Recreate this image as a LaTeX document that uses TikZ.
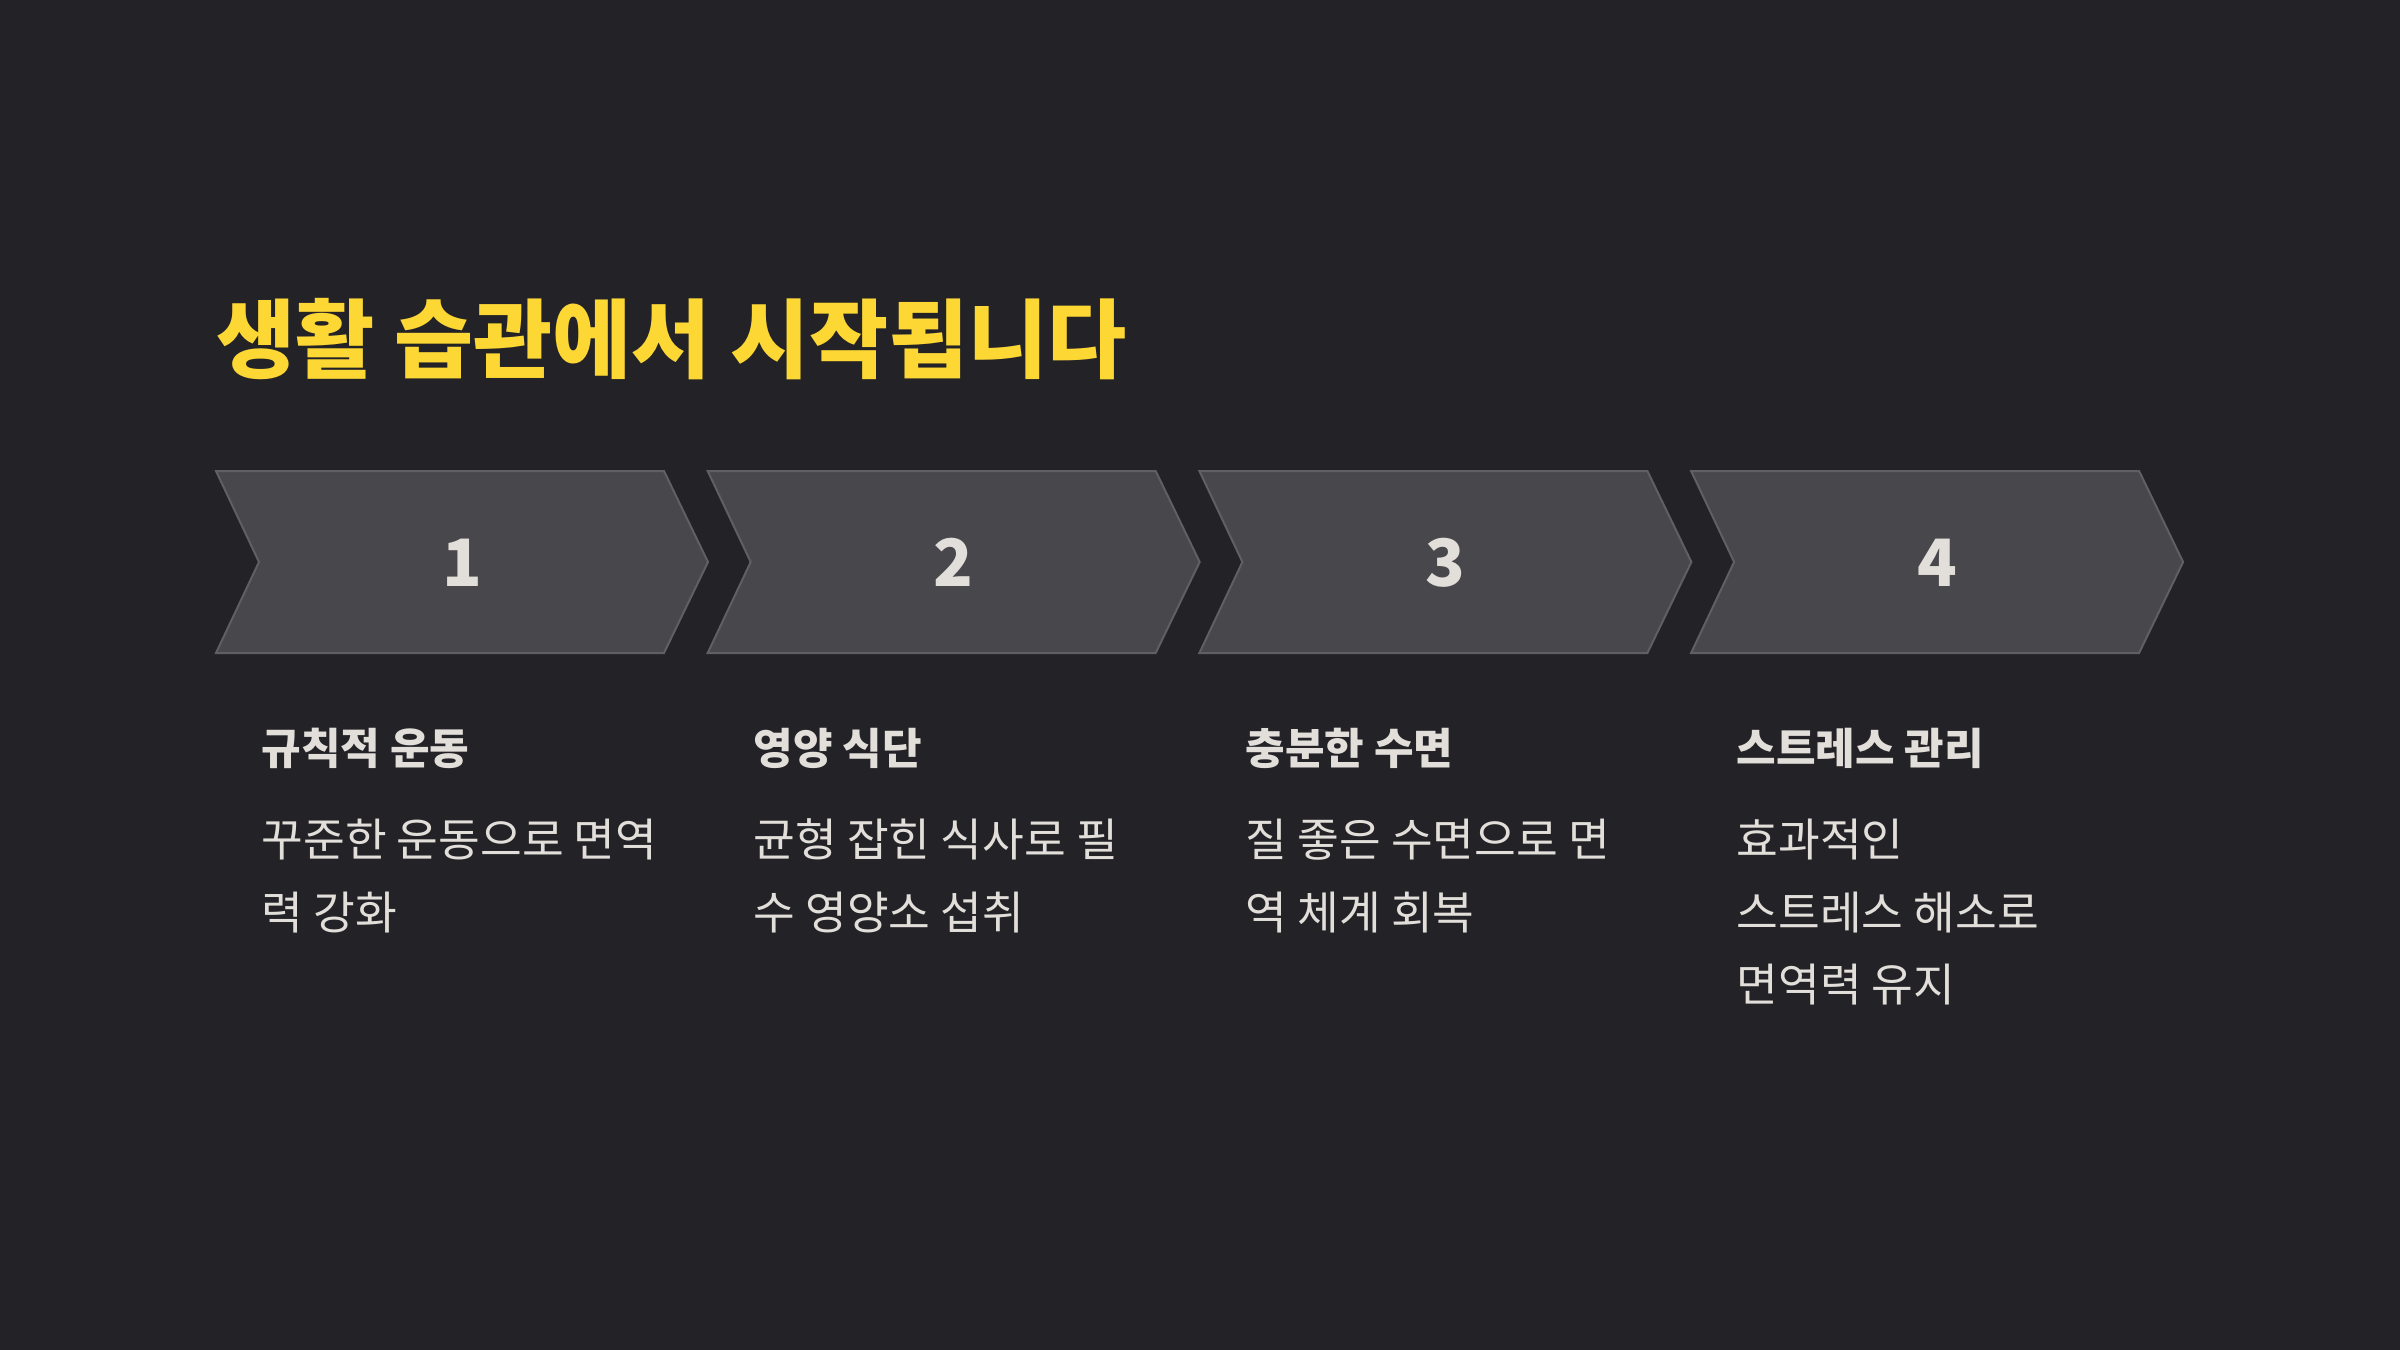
\documentclass[tikz,border=0pt]{standalone}
\usepackage{fontspec}
\newfontfamily\kr{Noto Sans CJK KR}
\definecolor{bg}{HTML}{232227}
\definecolor{chevfill}{HTML}{48474C}
\definecolor{chevline}{HTML}{605F64}
\definecolor{ttl}{HTML}{FDD835}
\definecolor{txt}{HTML}{E2DFDA}
\tikzset{
  chev/.style={fill=chevfill,draw=chevline,line width=0.6pt,line join=miter},
  numlbl/.style={inner sep=0pt,anchor=base,text=txt,font=\kr\bfseries\fontsize{19.6pt}{24pt}\selectfont},
  headlbl/.style={inner sep=0pt,anchor=base west,text=txt,font=\kr\bfseries\fontsize{12.9pt}{15pt}\selectfont},
  desclbl/.style={inner sep=0pt,anchor=base west,text=txt,font=\kr\fontsize{13.6pt}{16pt}\selectfont},
}
\begin{document}
\begin{tikzpicture}[x=0.3pt,y=-0.3pt]
\fill[bg] (0,0) rectangle (2400,1350);
\useasboundingbox (0,0) rectangle (2400,1350);
\node[inner sep=0pt,anchor=base west,text=ttl,font=\kr\bfseries\fontsize{25.8pt}{30pt}\selectfont] (title) at (216,371) {생활 습관에서 시작됩니다};
\foreach \i/\n in {0/1,1/2,2/3,3/4}{
  \pgfmathsetmacro{\L}{216+491.7*\i}
  \draw[chev] (\L,471) -- (\L+448,471) -- (\L+492,562) -- (\L+448,653) -- (\L,653) -- (\L+43,562) -- cycle;
  \node[numlbl] (num\n) at (\L+246,586) {\n};
}
\node[headlbl] (h1) at (261,764) {규칙적 운동};
\node[desclbl] (d1a) at (261,856) {꾸준한 운동으로 면역};
\node[desclbl] (d1b) at (261,929) {력 강화};
\node[headlbl] (h2) at (753,764) {영양 식단};
\node[desclbl] (d2a) at (753,856) {균형 잡힌 식사로 필};
\node[desclbl] (d2b) at (753,929) {수 영양소 섭취};
\node[headlbl] (h3) at (1245,764) {충분한 수면};
\node[desclbl] (d3a) at (1245,856) {질 좋은 수면으로 면};
\node[desclbl] (d3b) at (1245,929) {역 체계 회복};
\node[headlbl] (h4) at (1736,764) {스트레스 관리};
\node[desclbl] (d4a) at (1736,856) {효과적인};
\node[desclbl] (d4b) at (1736,929) {스트레스 해소로};
\node[desclbl] (d4c) at (1736,1001) {면역력 유지};
\end{tikzpicture}
\end{document}
